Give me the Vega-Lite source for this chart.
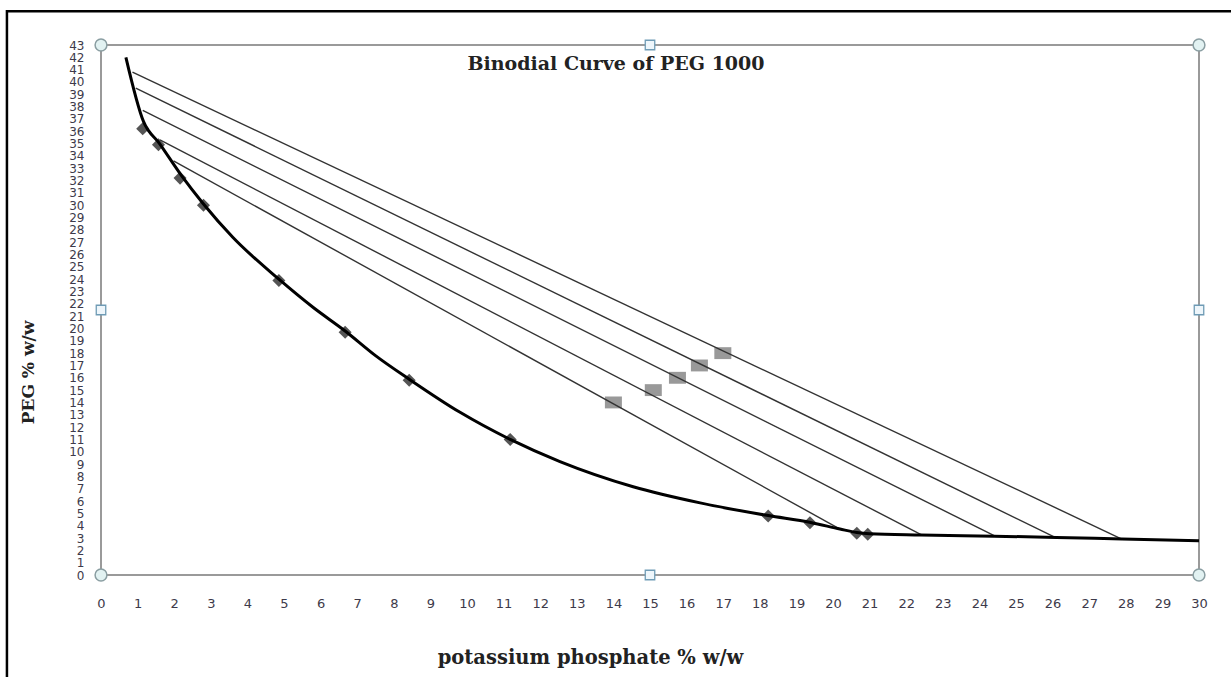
{
  "$schema": "https://vega.github.io/schema/vega-lite/v6.json",
  "width": 1098,
  "height": 530,
  "autosize": {"type": "none"},
  "padding": {"left": 101, "top": 45, "right": 32, "bottom": 102},
  "background": "white",
  "title": {"text": "Binodial Curve of PEG 1000", "font": "DejaVu Serif", "fontSize": 19, "fontWeight": "bold", "color": "#222222", "anchor": "middle", "dx": -34, "offset": -79, "baseline": "alphabetic"},
  "config": {
    "view": {"stroke": "#9a9a9a", "strokeWidth": 2},
    "axis": {"grid": false, "domain": false, "ticks": false, "labelOverlap": false, "labelFlush": false, "labelBound": false, "labelFont": "DejaVu Sans", "labelFontSize": 13, "labelColor": "#3d3a4a", "titleFont": "DejaVu Serif", "titleFontWeight": "bold", "titleColor": "#222222"},
    "axisX": {"tickCount": 30, "labelPadding": 22, "titleFontSize": 19.5, "titleX": 489, "titleY": 82, "titleBaseline": "middle", "titleAlign": "center"},
    "axisY": {"tickCount": 43, "labelPadding": 17, "labelFontSize": 12, "titleFontSize": 17, "titleX": -73, "titleY": 327, "titleBaseline": "middle", "titleAlign": "center", "titleAngle": -90}
  },
  "datasets": {
    "curve": [
      {"x": 0.68, "y": 42.0}, {"x": 1.16, "y": 36.8}, {"x": 1.6, "y": 35.0}, {"x": 2.2, "y": 32.4},
      {"x": 2.8, "y": 30.1}, {"x": 3.6, "y": 27.4}, {"x": 4.86, "y": 24.0}, {"x": 5.8, "y": 21.7},
      {"x": 6.67, "y": 19.8}, {"x": 7.5, "y": 17.8}, {"x": 8.44, "y": 15.85}, {"x": 9.81, "y": 13.2},
      {"x": 11.18, "y": 11.0}, {"x": 12.54, "y": 9.2}, {"x": 14.54, "y": 7.16}, {"x": 16.37, "y": 5.85},
      {"x": 18.23, "y": 4.82}, {"x": 19.39, "y": 4.26}, {"x": 20.19, "y": 3.73}, {"x": 20.65, "y": 3.45},
      {"x": 21.0, "y": 3.35}, {"x": 22.4, "y": 3.25}, {"x": 24.4, "y": 3.15}, {"x": 26.1, "y": 3.05},
      {"x": 27.9, "y": 2.92}, {"x": 30.0, "y": 2.78}
    ],
    "ties": [
      {"line": 1, "x": 0.86, "y": 40.8}, {"line": 1, "x": 27.89, "y": 2.92},
      {"line": 2, "x": 0.95, "y": 39.5}, {"line": 2, "x": 26.07, "y": 3.05},
      {"line": 3, "x": 1.14, "y": 37.7}, {"line": 3, "x": 24.43, "y": 3.15},
      {"line": 4, "x": 1.61, "y": 35.3}, {"line": 4, "x": 22.42, "y": 3.25},
      {"line": 5, "x": 1.98, "y": 33.6}, {"line": 5, "x": 20.19, "y": 3.73}
    ],
    "diamonds": [
      {"x": 1.14, "y": 36.2}, {"x": 1.57, "y": 34.9}, {"x": 2.16, "y": 32.2}, {"x": 2.8, "y": 30.0},
      {"x": 4.86, "y": 23.9}, {"x": 6.67, "y": 19.7}, {"x": 8.42, "y": 15.8}, {"x": 11.18, "y": 11.0},
      {"x": 18.23, "y": 4.78}, {"x": 19.37, "y": 4.24}, {"x": 20.65, "y": 3.38}, {"x": 20.95, "y": 3.3}
    ],
    "feeds": [
      {"x": 14.0, "y": 14.0}, {"x": 15.09, "y": 15.0}, {"x": 15.75, "y": 16.0}, {"x": 16.35, "y": 17.0}, {"x": 16.99, "y": 18.0}
    ],
    "corners": [
      {"x": 0, "y": 0}, {"x": 30, "y": 0}, {"x": 0, "y": 43}, {"x": 30, "y": 43}
    ],
    "mids": [
      {"x": 15, "y": 0}, {"x": 15, "y": 43}, {"x": 0, "y": 21.5}, {"x": 30, "y": 21.5}
    ]
  },
  "layer": [
    {
      "data": {"name": "feeds"},
      "mark": {"type": "point", "shape": "M-1,-0.7H1V0.7H-1Z", "filled": true, "color": "#999999", "opacity": 1, "size": 289},
      "encoding": {
        "x": {"field": "x", "type": "quantitative", "scale": {"domain": [0, 30], "nice": false, "zero": false}, "title": "potassium phosphate % w/w"},
        "y": {"field": "y", "type": "quantitative", "scale": {"domain": [0, 43], "nice": false, "zero": false}, "title": "PEG % w/w"}
      }
    },
    {
      "data": {"name": "diamonds"},
      "mark": {"type": "point", "shape": "diamond", "filled": true, "color": "#555555", "opacity": 1, "size": 170},
      "encoding": {
        "x": {"field": "x", "type": "quantitative", "scale": {"domain": [0, 30], "nice": false, "zero": false}, "title": "potassium phosphate % w/w"},
        "y": {"field": "y", "type": "quantitative", "scale": {"domain": [0, 43], "nice": false, "zero": false}, "title": "PEG % w/w"}
      }
    },
    {
      "data": {"name": "ties"},
      "mark": {"type": "line", "color": "#333333", "strokeWidth": 1.4},
      "encoding": {
        "x": {"field": "x", "type": "quantitative", "scale": {"domain": [0, 30], "nice": false, "zero": false}, "title": "potassium phosphate % w/w"},
        "y": {"field": "y", "type": "quantitative", "scale": {"domain": [0, 43], "nice": false, "zero": false}, "title": "PEG % w/w"},
        "detail": {"field": "line", "type": "nominal"}
      }
    },
    {
      "data": {"name": "curve"},
      "mark": {"type": "line", "color": "#000000", "strokeWidth": 3, "interpolate": "monotone"},
      "encoding": {
        "x": {"field": "x", "type": "quantitative", "scale": {"domain": [0, 30], "nice": false, "zero": false}, "title": "potassium phosphate % w/w"},
        "y": {"field": "y", "type": "quantitative", "scale": {"domain": [0, 43], "nice": false, "zero": false}, "title": "PEG % w/w"}
      }
    },
    {
      "data": {"name": "corners"},
      "mark": {"type": "point", "shape": "circle", "filled": true, "fill": "#e2f2f2", "stroke": "#8a9ea2", "strokeWidth": 1.5, "opacity": 1, "size": 140},
      "encoding": {
        "x": {"field": "x", "type": "quantitative", "scale": {"domain": [0, 30], "nice": false, "zero": false}, "title": "potassium phosphate % w/w"},
        "y": {"field": "y", "type": "quantitative", "scale": {"domain": [0, 43], "nice": false, "zero": false}, "title": "PEG % w/w"}
      }
    },
    {
      "data": {"name": "mids"},
      "mark": {"type": "point", "shape": "square", "filled": true, "fill": "#eef6fb", "stroke": "#6f9bb5", "strokeWidth": 1.3, "opacity": 1, "size": 90},
      "encoding": {
        "x": {"field": "x", "type": "quantitative", "scale": {"domain": [0, 30], "nice": false, "zero": false}, "title": "potassium phosphate % w/w"},
        "y": {"field": "y", "type": "quantitative", "scale": {"domain": [0, 43], "nice": false, "zero": false}, "title": "PEG % w/w"}
      }
    },
    {
      "data": {"values": [{}]},
      "mark": {"type": "rect", "fill": "white", "fillOpacity": 0, "stroke": "#000000", "strokeWidth": 2.5, "clip": false},
      "encoding": {
        "x": {"datum": -2.57, "type": "quantitative", "scale": {"domain": [0, 30], "nice": false, "zero": false}, "title": "potassium phosphate % w/w"},
        "x2": {"datum": 34},
        "y": {"datum": 45.73, "type": "quantitative", "scale": {"domain": [0, 43], "nice": false, "zero": false}, "title": "PEG % w/w"},
        "y2": {"datum": -12}
      }
    }
  ]
}
